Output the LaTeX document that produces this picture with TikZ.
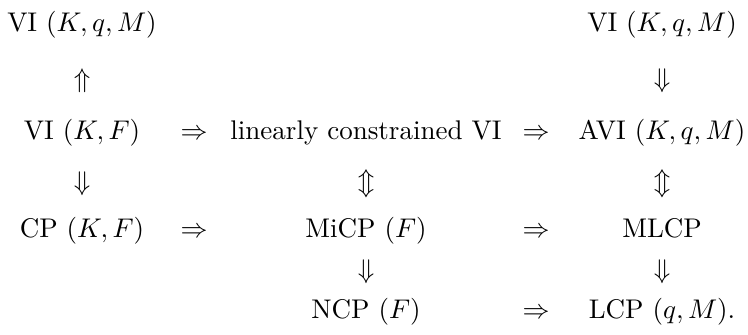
\documentclass[tikz,border=0pt]{standalone}
\begin{document}
\begin{tikzpicture}[x=0.3704pt,y=-0.3704pt,
  lbl/.style={anchor=base, inner sep=0pt, outer sep=0pt}]
\useasboundingbox (0,0) rectangle (748,335);
% rows (baselines) and columns (centres)
\def\ra{32}\def\rb{88}\def\rc{140}\def\rd{191}\def\re{238}\def\rf{279}\def\rg{319}
\def\ca{82}\def\cb{194}\def\cc{366}\def\cd{536}\def\ce{662}
% entries
\node[lbl] (viKqMl) at (\ca,\ra) {VI $(K,q,M)$};
\node[lbl] (viKqMr) at (\ce,\ra) {VI $(K,q,M)$};
\node[lbl] (viKF)   at (\ca,\rc) {VI $(K,F)$};
\node[lbl] (lcvi)   at (\cc,\rc) {linearly constrained VI};
\node[lbl] (avi)    at (\ce,\rc) {AVI $(K,q,M)$};
\node[lbl] (cp)     at (\ca,\re) {CP $(K,F)$};
\node[lbl] (micp)   at (\cc,\re) {MiCP $(F)$};
\node[lbl] (mlcp)   at (\ce,\re) {MLCP};
\node[lbl] (ncp)    at (\cc,\rg) {NCP $(F)$};
\node[lbl] (lcp)    at (\ce,\rg) {LCP $(q,M)$.};
% implication signs
\node[lbl] (u1) at (\ca,\rb) {$\Uparrow$};
\node[lbl] (d1) at (\ce,\rb) {$\Downarrow$};
\node[lbl] (r1) at (\cb,\rc) {$\Rightarrow$};
\node[lbl] (r2) at (\cd,\rc) {$\Rightarrow$};
\node[lbl] (d2) at (\ca,\rd) {$\Downarrow$};
\node[lbl] (e1) at (\cc,\rd) {$\Updownarrow$};
\node[lbl] (e2) at (\ce,\rd) {$\Updownarrow$};
\node[lbl] (r3) at (\cb,\re) {$\Rightarrow$};
\node[lbl] (r4) at (\cd,\re) {$\Rightarrow$};
\node[lbl] (d3) at (\cc,\rf) {$\Downarrow$};
\node[lbl] (d4) at (\ce,\rf) {$\Downarrow$};
\node[lbl] (r5) at (\cd,\rg) {$\Rightarrow$};
\end{tikzpicture}
\end{document}
